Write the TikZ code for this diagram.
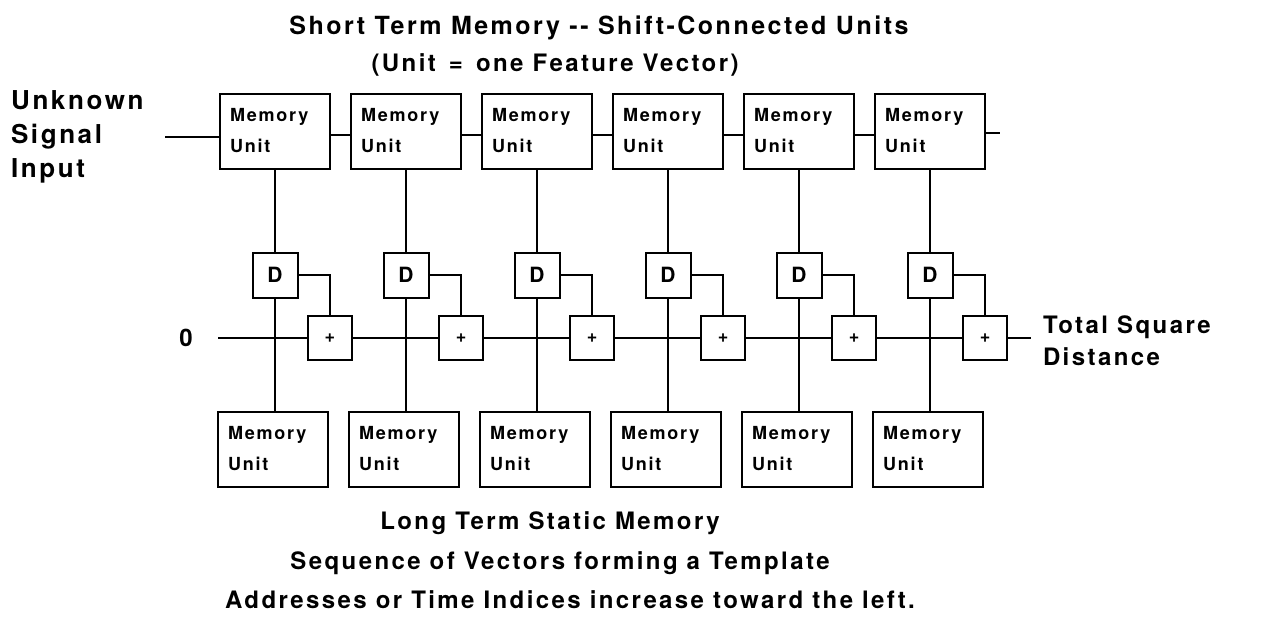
\documentclass[tikz,border=0pt]{standalone}
\usepackage{fontspec}
\setmainfont{TeX Gyre Heros}[LetterSpace=10]
\usetikzlibrary{calc}

\begin{document}
\begin{tikzpicture}[x=1pt, y=-1pt, line width=2pt,
	every node/.style={font=\bfseries},
	memunit/.style={draw, minimum width=110pt, minimum height=75pt, text width=90pt, inner sep=10pt,
		align=left, font=\fontsize{18}{31}\selectfont\bfseries},
	dbox/.style={draw, minimum size=45pt, inner sep=0pt, font=\fontsize{21}{21}\selectfont\bfseries},
	plusbox/.style={draw, minimum size=44pt, inner sep=0pt, font=\fontsize{18}{18}\selectfont\bfseries},
	label/.style={font=\fontsize{26}{34}\selectfont\bfseries, align=left, inner sep=0pt},
	caption/.style={font=\fontsize{24}{24}\selectfont\bfseries, inner sep=0pt}]

		\fill[white] (0,0) rectangle (1263,619);

		% headings
		\node[caption, font=\fontsize{25}{25}\selectfont\bfseries] (stm) at (599,28) {Short Term Memory -{}- Shift-Connected Units};
		\node[caption] (unitdef) at (555,65) {(Unit \,=\, one Feature Vector)};

		% one column per feature vector
		\foreach \i in {0,...,5}{
			\pgfmathsetmacro{\cx}{275+131*\i}
			\node[memunit] (top\i) at (\cx,131) {Memory\\Unit};
			\node[dbox] (d\i) at (\cx,275) {D};
			\node[plusbox] (p\i) at (\cx+55,338) {+};
			\node[memunit] (bot\i) at (\cx-2,449) {Memory\\Unit};
			\draw (top\i) -- (d\i);
			\draw (d\i.south) -- (d\i.south |- bot\i.north);
			\draw (d\i.east) -| (p\i.north);
		}

		% shift chain and running sum
		\foreach \i [count=\j] in {0,...,4}{
			\draw ([yshift=-4pt]top\i.east) -- ([yshift=-4pt]top\j.west);
			\draw (p\i) -- (p\j);
		}

		\node[label, anchor=west] (unknown) at (10,137) {Unknown\\Signal\\Input};
		\coordinate (sigin) at (165,137);
		\draw (sigin) -- (sigin -| top0.west);
		\coordinate (shiftout) at (1000,133);
		\draw (shiftout -| top5.east) -- (shiftout);

		\node[caption] (zero) at (186,338) {0};
		\coordinate (sumin) at (218,338);
		\draw (sumin) -- (p0);
		\coordinate (sumout) at (1031,338);
		\draw (p5) -- (sumout);
		\node[label, anchor=west, font=\fontsize{24}{32}\selectfont\bfseries] (total) at (1042,341) {Total Square\\Distance};

		% captions under the template
		\node[caption] (ltm) at (550,523) {Long Term Static Memory};
		\node[caption] (seq) at (560,563) {Sequence of Vectors forming a Template};
		\node[caption] (addr) at (570,600) {Addresses or Time Indices increase toward the left.};
	\end{tikzpicture}
\end{document}
